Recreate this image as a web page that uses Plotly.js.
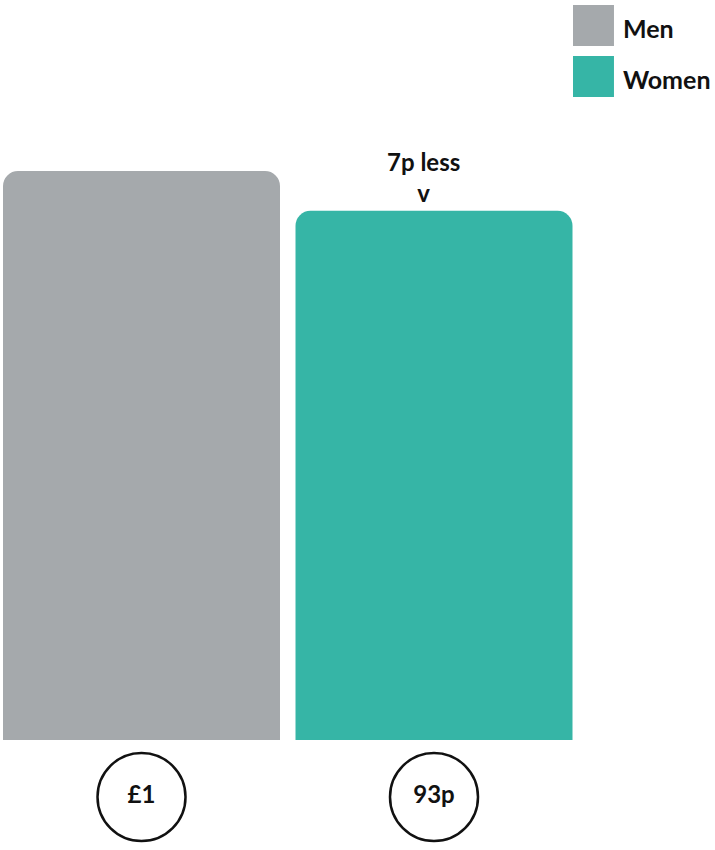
<!DOCTYPE html>
<html>
<head>
<meta charset="utf-8">
<script src="https://cdn.plot.ly/plotly-3.0.1.min.js"></script>
<style>html,body{margin:0;padding:0;background:#fff}#chart{width:715px;height:850px}</style>
</head>
<body>
<div id="chart"></div>
<script>
const categories = ['Men', 'Women'];
const values = [1, 0.93];
const valueLabels = ['£1', '93p'];
const differenceLabel = '7p less';
const colors = ['#a5a9ac', '#36b5a6'];

const FONT = 'Lato, "DejaVu Sans", sans-serif';
const circleY = -0.1;

const bars = {
  type: 'bar',
  x: categories,
  y: values,
  width: 0.947,
  marker: { color: colors, cornerradius: 15 },
  hoverinfo: 'skip',
  showlegend: false
};

const circles = {
  type: 'scatter',
  mode: 'markers+text',
  x: categories,
  y: categories.map(() => circleY),
  text: valueLabels,
  textposition: 'middle center',
  textfont: { family: FONT, size: 24, color: '#111', weight: 700 },
  marker: { symbol: 'circle', size: 88, color: 'rgba(255,255,255,1)', line: { color: '#111', width: 2.5 } },
  hoverinfo: 'skip',
  showlegend: false,
  cliponaxis: false
};

const annotations = [
  {
    x: categories[1], y: values[1], xref: 'x', yref: 'y',
    text: differenceLabel + '<br>v', showarrow: false,
    xanchor: 'center', yanchor: 'bottom', yshift: 2, xshift: -11,
    font: { family: FONT, size: 24, color: '#111', weight: 700 }
  }
];
const shapes = [];
const legendTop = [0.9941, 0.9341];
categories.forEach((c, i) => {
  shapes.push({
    type: 'rect', xref: 'paper', yref: 'paper',
    x0: 0.8014, x1: 0.8587, y0: legendTop[i] - 0.0482, y1: legendTop[i],
    fillcolor: colors[i], line: { width: 0 }
  });
  annotations.push({
    xref: 'paper', yref: 'paper', x: 0.8727, y: legendTop[i] - 0.0265,
    xanchor: 'left', yanchor: 'middle', text: c, showarrow: false, xshift: -3,
    font: { family: FONT, size: 25, color: '#111', weight: 700 }
  });
});

const layout = {
  width: 715, height: 850,
  margin: { l: 0, r: 0, t: 0, b: 0 },
  paper_bgcolor: '#fff', plot_bgcolor: '#fff',
  xaxis: { type: 'category', range: [-0.4838, 1.9607], visible: false, fixedrange: true },
  yaxis: { range: [-0.1933, 1.3005], visible: false, fixedrange: true },
  showlegend: false,
  annotations: annotations,
  shapes: shapes,
  hovermode: false
};

Plotly.newPlot('chart', [bars, circles], layout, { displayModeBar: false, staticPlot: true });
</script>
</body>
</html>
